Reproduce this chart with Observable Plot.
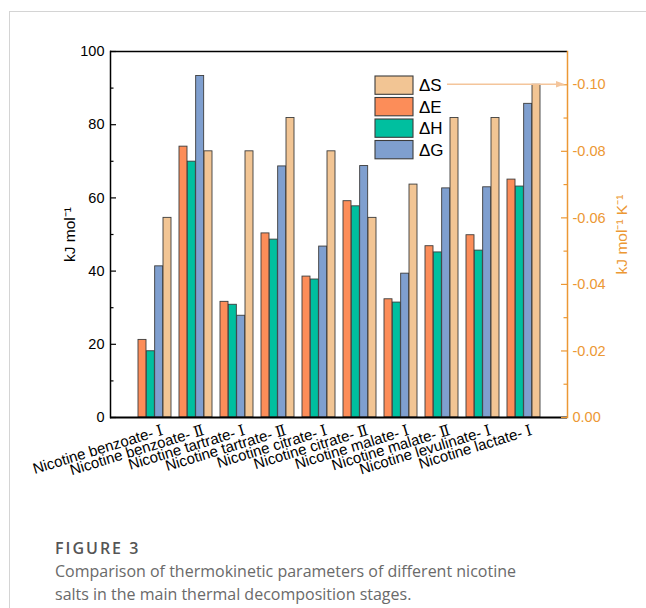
<!DOCTYPE html>
<html><head><meta charset="utf-8">
<script src="https://cdn.jsdelivr.net/npm/d3@7"></script>
<script src="https://cdn.jsdelivr.net/npm/@observablehq/plot@0.6"></script>
<style>
body{margin:0;background:#fff;}
#wrap{position:relative;width:646px;height:608px;overflow:hidden;background:#fff;}
#border{position:absolute;left:9px;top:11px;right:-4px;bottom:-4px;border-left:1.5px solid #d4d4d4;border-top:1.5px solid #d4d4d4;}
#chart{position:absolute;left:0;top:0;width:646px;}
#cap{position:absolute;left:55px;top:537px;font-family:'Open Sans',sans-serif;color:#6a6a6a;font-size:16px;line-height:23px;}
#cap .fig{font-weight:600;color:#555;letter-spacing:2px;}
</style></head>
<body><div id="wrap"><div id="border"></div><div id="chart"></div>
<div id="cap"><div class="fig">FIGURE 3</div><div>Comparison of thermokinetic parameters of different nicotine<br>salts in the main thermal decomposition stages.</div></div></div>
<script>
const categories = ["Nicotine benzoate- Ⅰ","Nicotine benzoate- Ⅱ","Nicotine tartrate- Ⅰ","Nicotine tartrate- Ⅱ","Nicotine citrate- Ⅰ","Nicotine citrate- Ⅱ","Nicotine malate- Ⅰ","Nicotine malate- Ⅱ","Nicotine levulinate- Ⅰ","Nicotine lactate- Ⅰ"];
const dE = [21.2, 74.0, 31.6, 50.3, 38.5, 59.1, 32.3, 46.8, 49.8, 65.0];
const dH = [18.1, 69.9, 30.8, 48.6, 37.7, 57.7, 31.4, 45.1, 45.6, 63.1];
const dG = [41.3, 93.3, 27.8, 68.6, 46.7, 68.7, 39.3, 62.6, 62.9, 85.7];
const dS = [0.060, 0.080, 0.080, 0.090, 0.080, 0.060, 0.070, 0.090, 0.090, 0.100]; // magnitude, axis shows negative
const seriesKeys = ["E","H","G","S"];
const seriesNames = {E:"ΔE", H:"ΔH", G:"ΔG", S:"ΔS"};
const legendOrder = ["S","E","H","G"];
const leftTicks = [0,20,40,60,80,100];
const leftMinor = [10,30,50,70,90];
const rightTicks = [0,0.02,0.04,0.06,0.08,0.10];
const rightMinor = [0.01,0.03,0.05,0.07,0.09];
const leftMax = 100, rightMax = 0.11;

const colors = {E:"#FC8D59", H:"#00BF9F", G:"#7F9FCF", S:"#F2C594"};
const orange = "#EC9834";
const sToY = s => s * leftMax / rightMax;

const rows = categories.map((c,i)=>({cat:c, E:dE[i], H:dH[i], G:dG[i], S:dS[i]}));

const W=646, H=520, mL=110, mR=79, mT=51, mB=103;
const fw = W-mL-mR;
const pIn=0.2, pOut=0.583;
const step = fw/(categories.length - pIn + 2*pOut);
const q = step*(1-pIn)/4;

const barMarks = seriesKeys.map((k,i)=>Plot.barY(rows, {
  x:"cat", y: k==="S" ? (d=>sToY(d.S)) : k,
  fill: colors[k], stroke:"#3c3c3c", strokeWidth:0.9,
  insetLeft: i*q, insetRight: (3-i)*q
}));

const chart = Plot.plot({
  width: W, height: H, marginLeft: mL, marginRight: mR, marginTop: mT, marginBottom: mB,
  style: {fontFamily: "'Liberation Sans', Arial, sans-serif", fontSize: "14px", background: "transparent", overflow: "visible"},
  x: {domain: categories, paddingInner: pIn, paddingOuter: pOut},
  y: {domain: [0, leftMax]},
  marks: [
    ...barMarks,
    Plot.ruleY([0], {stroke:"#000", strokeWidth:1.8}),
    Plot.ruleY([leftMax], {stroke:"#000", strokeWidth:1.3}),
    Plot.frame({anchor:"left", stroke:"#000", strokeWidth:1.5}),
    Plot.frame({anchor:"right", stroke:orange, strokeWidth:1.5}),
    Plot.tickY(leftTicks, {y:d=>d, stroke:"#000", strokeWidth:1.2, insetRight: fw-6}),
    Plot.tickY(leftMinor, {y:d=>d, stroke:"#000", strokeWidth:1.2, insetRight: fw-3.5}),
    Plot.tickY(rightTicks.map(sToY), {y:d=>d, stroke:orange, strokeWidth:1.2, insetLeft: fw-6}),
    Plot.tickY(rightMinor.map(sToY), {y:d=>d, stroke:orange, strokeWidth:1.2, insetLeft: fw-3.5}),
    Plot.axisY(leftTicks, {anchor:"left", tickSize:0, tickPadding:6, fontSize:14.5, color:"#000", label:null}),
    Plot.axisY(rightTicks.map(sToY), {anchor:"right", tickSize:0, tickPadding:5, fontSize:14.5, color:orange, label:null,
      tickFormat: d => { const v = d*rightMax/leftMax; return v < 1e-9 ? "0.00" : "-" + v.toFixed(2); }}),
    Plot.axisX({tickSize:0, tickPadding:17, tickRotate:-17, textAnchor:"end", lineAnchor:"bottom", dx:9, fontSize:15, color:"#000", label:null,
      fontFamily:"'Liberation Sans', 'Liberation Serif', 'DejaVu Serif', serif"}),
    Plot.text(["kJ mol⁻¹"], {frameAnchor:"left", text:d=>d, rotate:-90, dx:-40, fontSize:15.5, fill:"#000", textAnchor:"middle", lineAnchor:"middle"}),
    Plot.text(["kJ mol⁻¹ K⁻¹"], {frameAnchor:"right", text:d=>d, rotate:-90, dx:55, fontSize:15.5, fill:orange, textAnchor:"middle", lineAnchor:"middle"})
  ]
});
document.getElementById("chart").appendChild(chart);

// legend and arrow annotation drawn into the plot's SVG
const svg = d3.select(chart);
const yS = chart.scale("y");
const ay = yS.apply(sToY(0.10));
const g = svg.append("g").attr("font-family","'Liberation Sans', Arial, sans-serif").attr("font-size",17).attr("text-anchor","start");
const lx = 375, ly = 76, bw = 38, bh = 18.3, pitch = 21.5;
legendOrder.forEach((k,i)=>{
  g.append("rect").attr("x",lx).attr("y",ly+i*pitch).attr("width",bw).attr("height",bh)
    .attr("fill",colors[k]).attr("stroke","#3c3c3c").attr("stroke-width",1.1);
  g.append("text").attr("x",lx+bw+6).attr("y",ly+i*pitch+bh/2+6).attr("fill","#000").attr("text-anchor","start").text(seriesNames[k]);
});
const ax1 = 447, ax2 = W - mR - 2;
g.append("line").attr("x1",ax1).attr("x2",ax2-8).attr("y1",ay).attr("y2",ay).attr("stroke","#F4C59B").attr("stroke-width",1.3);
g.append("path").attr("d",`M${ax2},${ay}L${ax2-9},${ay-3.2}L${ax2-9},${ay+3.2}Z`).attr("fill","#F4C59B");
</script>
</body></html>
